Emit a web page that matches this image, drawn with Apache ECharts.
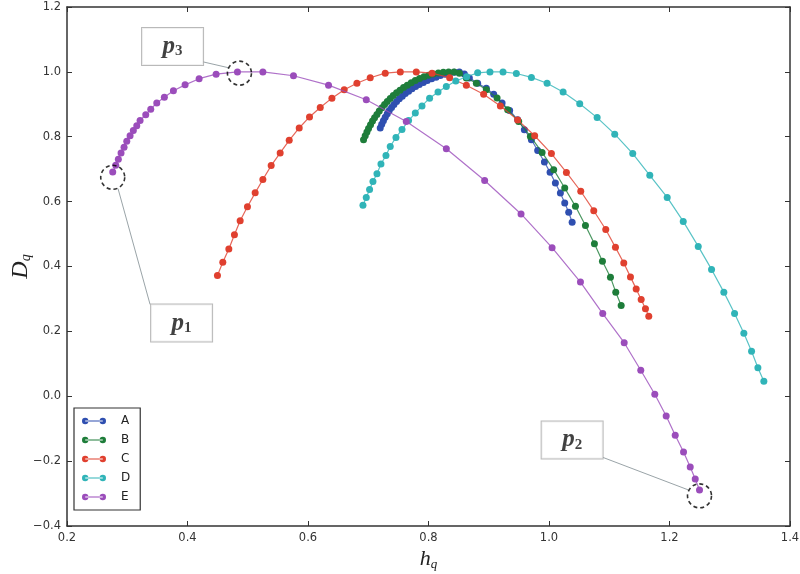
<!DOCTYPE html>
<html><head><meta charset="utf-8">
<script src="https://cdn.jsdelivr.net/npm/echarts@6/dist/echarts.min.js"></script>
<style>html,body{margin:0;padding:0;background:#fff}#c{width:800px;height:574px}</style>
</head><body><div id="c"></div>
<script>
// ---- data (h_q, D_q) ----
const seriesNames = ['A','B','C','D','E'];
const colors = ['#2f4fb0','#1e7d3a','#e0402f','#30b4b8','#9b4dbb'];

const hA = [0.7199,0.7224,0.7252,0.7282,0.7316,0.7349,0.7387,0.7427,0.7470,0.7515,0.7565,0.7615,0.7670,0.7726,0.7786,0.7847,0.7914,0.7980,0.8052,0.8125,0.8196,0.8274,0.8351,0.8429,0.8512,0.8595,0.8678,0.8816,0.8960,0.9082,0.9221,0.9347,0.9480,0.9591,0.9708,0.9812,0.9924,1.0018,1.0106,1.0189,1.0261,1.0327,1.0384];
const dA = [0.8268,0.8385,0.8492,0.8600,0.8708,0.8806,0.8902,0.8994,0.9086,0.9169,0.9252,0.9332,0.9406,0.9477,0.9548,0.9609,0.9671,0.9732,0.9785,0.9837,0.9886,0.9929,0.9960,0.9991,1.0,0.9938,0.9815,0.9652,0.9498,0.9314,0.9037,0.8809,0.8523,0.8215,0.7908,0.7578,0.7222,0.6902,0.6575,0.6268,0.5960,0.5671,0.5363];

const hB = [0.6922,0.6950,0.6978,0.7005,0.7038,0.7071,0.7105,0.7144,0.7183,0.7228,0.7271,0.7316,0.7365,0.7415,0.7470,0.7527,0.7586,0.7648,0.7714,0.7781,0.7852,0.7925,0.8002,0.8080,0.8163,0.8246,0.8334,0.8424,0.8512,0.8628,0.8794,0.8960,0.9138,0.9314,0.9497,0.9691,0.9885,1.0078,1.0261,1.0439,1.0605,1.0754,1.0887,1.1020,1.1108,1.1198];
const dB = [0.7908,0.8031,0.8145,0.8255,0.8369,0.8483,0.8585,0.8686,0.8791,0.8892,0.8994,0.9086,0.9178,0.9271,0.9354,0.9437,0.9517,0.9591,0.9662,0.9732,0.9794,0.9846,0.9898,0.9938,0.9969,0.9991,1.0,1.0,0.9954,0.9815,0.9652,0.9446,0.9191,0.8831,0.8471,0.8009,0.7517,0.6985,0.6422,0.5855,0.5262,0.4698,0.4163,0.3671,0.3209,0.2800];

const hC = [0.4497,0.4586,0.4686,0.4779,0.4874,0.4995,0.5123,0.5251,0.5389,0.5538,0.5688,0.5854,0.6025,0.6203,0.6397,0.6601,0.6812,0.7033,0.7282,0.7532,0.7797,0.8058,0.8351,0.8628,0.8915,0.9193,0.9480,0.9762,1.0040,1.0289,1.0527,1.0743,1.0942,1.1103,1.1241,1.1352,1.1447,1.1530,1.1601,1.1656];
const dC = [0.372,0.413,0.454,0.498,0.541,0.584,0.627,0.668,0.711,0.750,0.789,0.827,0.861,0.890,0.919,0.945,0.965,0.982,0.996,1.0,1.0,0.996,0.982,0.959,0.931,0.895,0.852,0.803,0.748,0.690,0.632,0.572,0.514,0.459,0.411,0.368,0.331,0.298,0.270,0.247];

const hD = [0.6912,0.6967,0.7022,0.7078,0.7145,0.7211,0.7294,0.7365,0.7460,0.7560,0.7669,0.7781,0.7892,0.8018,0.8158,0.8296,0.8453,0.8633,0.8816,0.9020,0.9237,0.9458,0.9708,0.9968,1.0234,1.0510,1.0799,1.1091,1.1390,1.1673,1.1962,1.2228,1.2477,1.2698,1.2902,1.3080,1.3234,1.3362,1.3467,1.3566];
const dD = [0.589,0.613,0.637,0.662,0.686,0.716,0.742,0.770,0.798,0.822,0.850,0.873,0.895,0.919,0.938,0.955,0.972,0.985,0.997,1.0,1.0,0.995,0.983,0.965,0.938,0.902,0.859,0.808,0.748,0.681,0.613,0.539,0.462,0.391,0.321,0.255,0.194,0.139,0.088,0.046];

const hE = [0.2759,0.2809,0.2852,0.2897,0.2947,0.2992,0.3047,0.3101,0.3158,0.3213,0.3307,0.3390,0.3490,0.3616,0.3766,0.3960,0.4193,0.4475,0.4829,0.5251,0.5759,0.6341,0.6967,0.7631,0.8296,0.8932,0.9536,1.0051,1.0522,1.0892,1.1248,1.1523,1.1756,1.1945,1.2095,1.2233,1.2344,1.2427,1.2498];
const dE = [0.691,0.712,0.731,0.750,0.768,0.786,0.803,0.819,0.834,0.850,0.868,0.885,0.904,0.922,0.942,0.960,0.979,0.993,1.0,1.0,0.988,0.959,0.914,0.847,0.763,0.665,0.562,0.458,0.352,0.255,0.165,0.080,0.006,-0.061,-0.120,-0.172,-0.218,-0.255,-0.289];

// annotations (data units)
const annNames = ['1','2','3'];
const annCircle = [[0.2759,0.675],[1.2498,-0.307],[0.4862,0.996]];
const annBox = [[0.3902,0.2255],[1.0384,-0.1348],[0.3752,1.0785]];
const annLeader = [
  [[0.2847,0.640],[0.3379,0.283]],
  [[1.0887,-0.188],[1.2316,-0.289]],
  [[0.4259,1.0308],[0.4691,1.0123]]
];

const xTicks = {min:0.2, max:1.4, interval:0.2};
const yTicks = {min:-0.4, max:1.2, interval:0.2};

const hs = [hA,hB,hC,hD,hE], ds=[dA,dB,dC,dD,dE];
const fmt = v => (Math.round(v*10)/10).toFixed(1).replace('-', '\u2212');
const lblFont = {fontFamily:'DejaVu Sans', fontSize:11.5, color:'#333'};

const series = seriesNames.map((n,i)=>({
  name:n, type:'line', data: hs[i].map((h,j)=>[h, ds[i][j]]),
  symbol:'circle', symbolSize:7, showSymbol:true,
  lineStyle:{width:1.2, color:colors[i], opacity:0.8},
  itemStyle:{color:colors[i]}, z:2+i, animation:false
}));

annLeader.forEach(seg=>{
  series.push({type:'line', data:seg, symbol:'none', silent:true,
    lineStyle:{color:'#9aa4a8', width:1}, z:10, animation:false});
});
series.push({type:'scatter', data:annCircle, symbol:'circle', symbolSize:24, silent:true,
  itemStyle:{color:'rgba(0,0,0,0)', borderColor:'#000', borderWidth:1.6, borderType:[4,3]}, z:12, animation:false});
series.push({type:'scatter', silent:true, symbolSize:1, itemStyle:{color:'rgba(0,0,0,0)'}, z:14, animation:false,
  data: annBox.map((b,i)=>({value:b, label:{formatter:'{p|p}{s|'+annNames[i]+'}'}})),
  label:{show:true, position:'inside', width:61, height:37, lineHeight:37, align:'center', verticalAlign:'middle',
    backgroundColor:'#fff', borderColor:'#a8a8a8', borderWidth:1,
    rich:{p:{fontFamily:'Liberation Serif', fontStyle:'italic', fontWeight:'bold', fontSize:25, color:'#111', verticalAlign:'middle'},
          s:{fontFamily:'Liberation Serif', fontWeight:'bold', fontSize:15, color:'#111', padding:[10,0,0,0]}}}
});

const chart = echarts.init(document.getElementById('c'), null, {renderer:'canvas'});
chart.setOption({
  animation:false,
  backgroundColor:'#fff',
  grid:{left:67, right:10, top:7, bottom:48, containLabel:false, outerBoundsMode:'none'},
  legend:{data:seriesNames, orient:'vertical', left:74, top:408, padding:[7,10,7,8], itemGap:7,
    itemWidth:24, itemHeight:8, borderColor:'#333', borderWidth:1.2, backgroundColor:'#fff',
    icon:'path://M0,4a4,4 0 1,0 8,0a4,4 0 1,0 -8,0ZM22,4a4,4 0 1,0 8,0a4,4 0 1,0 -8,0ZM4,3.4h22v1.2h-22Z',
    textStyle:{fontFamily:'DejaVu Sans', fontSize:12, color:'#222', padding:[0,0,0,10]}},
  xAxis:[
    Object.assign({type:'value', position:'bottom', splitLine:{show:false},
      axisLine:{onZero:false, lineStyle:{color:'#333', width:1.5}},
      axisTick:{inside:true, length:5, lineStyle:{color:'#333'}},
      axisLabel:Object.assign({formatter:fmt, margin:6}, lblFont),
      name:'{h|h}{s|q}', nameLocation:'middle', nameGap:22, nameMoveOverlap:false,
      nameTextStyle:{rich:{h:{fontFamily:'Liberation Serif', fontStyle:'italic', fontSize:22, color:'#222'},
                           s:{fontFamily:'Liberation Serif', fontStyle:'italic', fontSize:13, color:'#222', padding:[10,0,0,0]}}}
    }, xTicks),
    Object.assign({type:'value', position:'top', splitLine:{show:false},
      axisLine:{onZero:false, lineStyle:{color:'#333', width:1.5}},
      axisTick:{inside:true, length:5, lineStyle:{color:'#333'}}, axisLabel:{show:false}}, xTicks)
  ],
  yAxis:[
    Object.assign({type:'value', position:'left', splitLine:{show:false},
      axisLine:{onZero:false, lineStyle:{color:'#333', width:1.5}},
      axisTick:{inside:true, length:5, lineStyle:{color:'#333'}},
      axisLabel:Object.assign({formatter:fmt, margin:6}, lblFont),
      name:'{d|D}{s|q}', nameLocation:'middle', nameGap:34, nameRotate:90, nameMoveOverlap:false,
      nameTextStyle:{rich:{d:{fontFamily:'Liberation Serif', fontStyle:'italic', fontSize:24, color:'#222'},
                           s:{fontFamily:'Liberation Serif', fontStyle:'italic', fontSize:14, color:'#222', padding:[10,0,0,0]}}}
    }, yTicks),
    Object.assign({type:'value', position:'right', splitLine:{show:false},
      axisLine:{onZero:false, lineStyle:{color:'#333', width:1.5}},
      axisTick:{inside:true, length:5, lineStyle:{color:'#333'}}, axisLabel:{show:false}}, yTicks)
  ],
  series: series
});
</script></body></html>
